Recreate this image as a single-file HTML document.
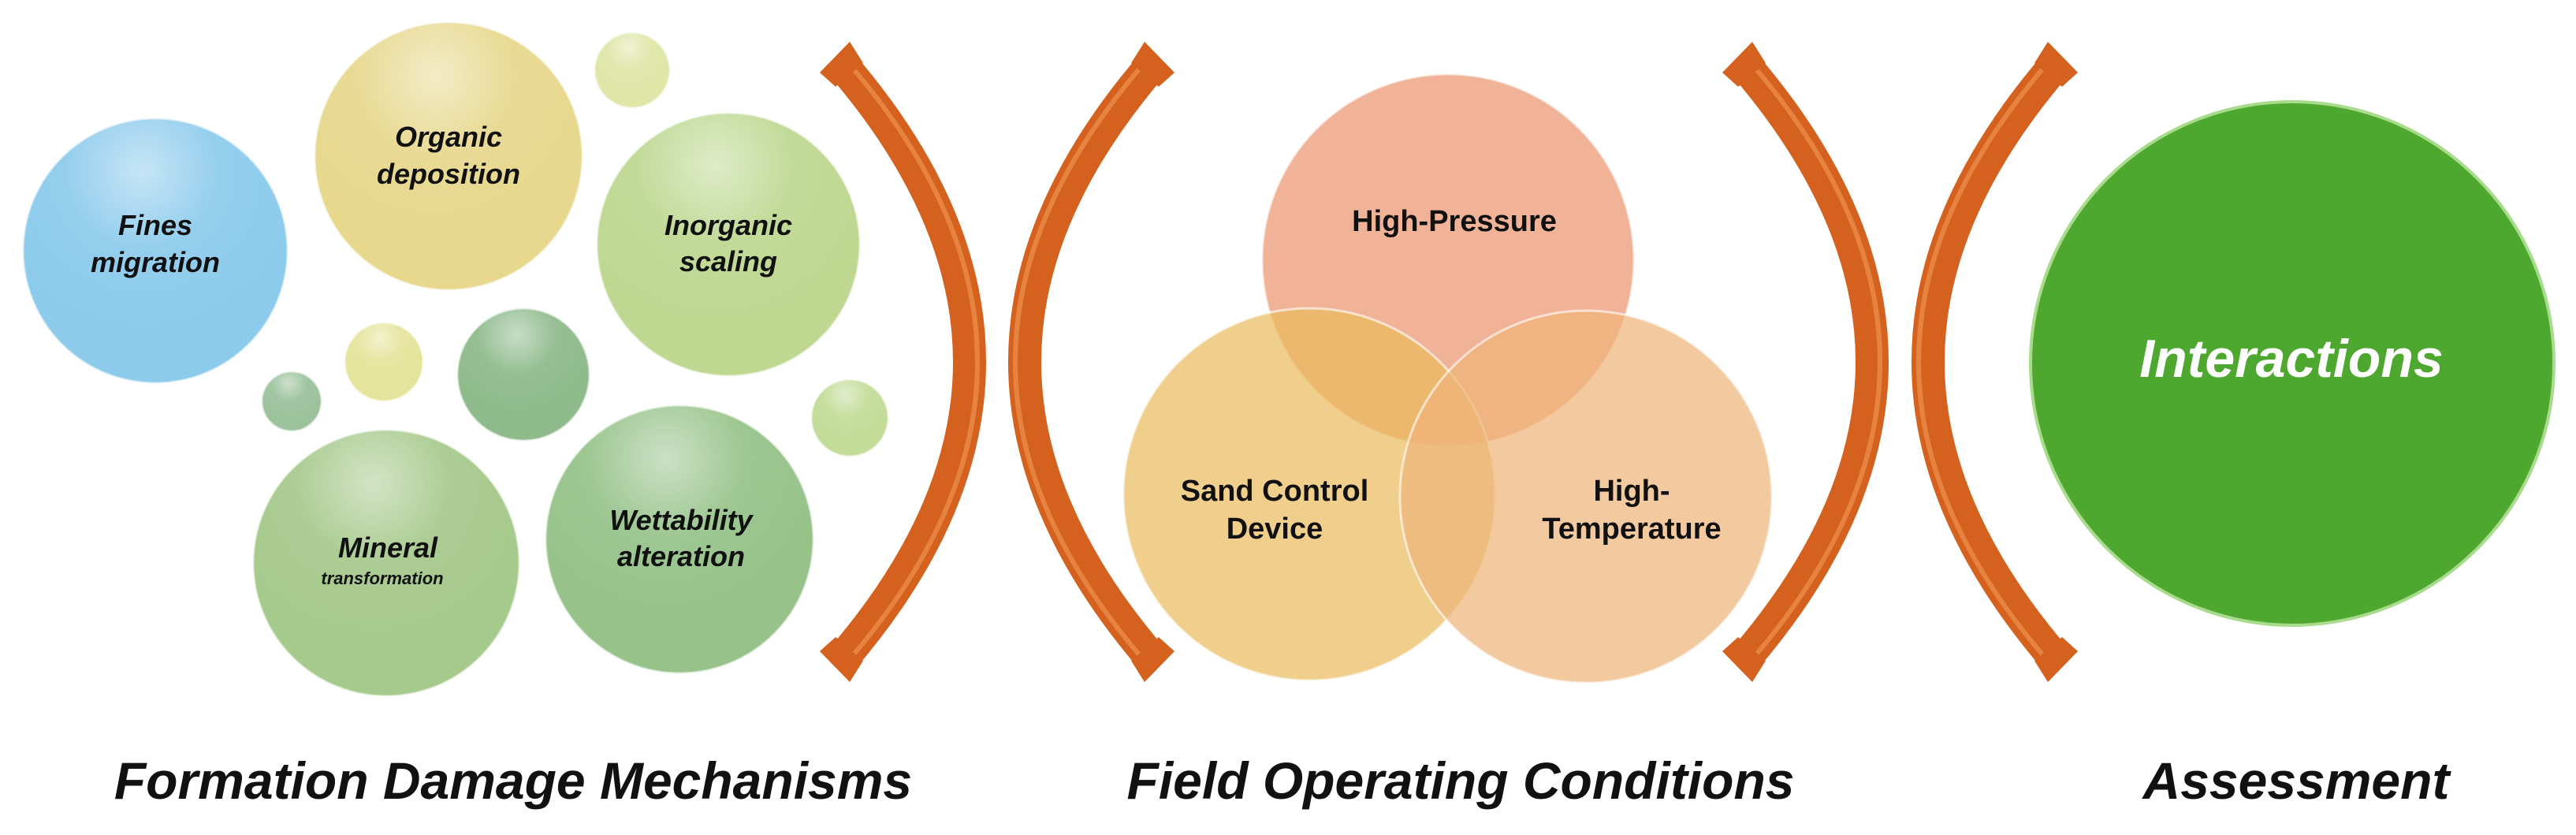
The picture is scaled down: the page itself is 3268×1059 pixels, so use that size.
<!DOCTYPE html>
<html><head><meta charset="utf-8"><style>
html,body{margin:0;padding:0;background:#fff;}
svg{display:block}
.t{font-family:"Liberation Sans Narrow","Liberation Sans",sans-serif;font-weight:bold;font-style:italic;fill:#111;text-anchor:middle}
.u{font-family:"Liberation Sans Narrow","Liberation Sans",sans-serif;font-weight:bold;fill:#111;text-anchor:middle}
</style></head><body>
<svg width="3268" height="1059" viewBox="0 0 3268 1059" xmlns="http://www.w3.org/2000/svg">
<defs>
<radialGradient id="hl" cx="0.45" cy="0.2" r="0.6">
<stop offset="0" stop-color="#fff" stop-opacity="0.5"/><stop offset="0.5" stop-color="#fff" stop-opacity="0.06"/><stop offset="1" stop-color="#fff" stop-opacity="0"/>
</radialGradient>
</defs>
<g stroke="#ffffff" stroke-opacity="0.6" stroke-width="3">
<circle cx="197" cy="318" r="168" fill="#8dcbec"/>
<circle cx="569" cy="198" r="170" fill="#e7d88e"/>
<circle cx="802" cy="89" r="48" fill="#dfe6a8"/>
<circle cx="924" cy="310" r="167" fill="#bed892"/>
<circle cx="370" cy="509" r="38" fill="#9cc29c"/>
<circle cx="487" cy="459" r="50" fill="#e5e49c"/>
<circle cx="664" cy="475" r="84" fill="#8fbb8c"/>
<circle cx="1078" cy="530" r="49" fill="#c3dc98"/>
<circle cx="490" cy="714" r="169" fill="#a6c98c"/>
<circle cx="862" cy="684" r="170" fill="#97c38b"/>
</g>
<g fill="url(#hl)">
<circle cx="197" cy="318" r="168"/><circle cx="569" cy="198" r="170"/><circle cx="802" cy="89" r="48"/>
<circle cx="924" cy="310" r="167"/><circle cx="370" cy="509" r="38"/><circle cx="487" cy="459" r="50"/>
<circle cx="664" cy="475" r="84"/><circle cx="1078" cy="530" r="49"/><circle cx="490" cy="714" r="169"/>
<circle cx="862" cy="684" r="170"/>
</g>
<g stroke="#fff" stroke-opacity="0.6" stroke-width="3">
<circle cx="1837" cy="330" r="236" fill="#eea07e" fill-opacity="0.8"/>
<circle cx="1661" cy="627" r="236" fill="#eabb5c" fill-opacity="0.7"/>
<circle cx="2012" cy="630" r="236" fill="#eeb47a" fill-opacity="0.72"/>
</g>
<circle cx="2908" cy="461" r="332" fill="#4ea72e" stroke="#a8dc8c" stroke-width="4"/>
<g fill="none" stroke="#d4611d" stroke-width="42">
<path d="M1068 82 Q1392 459 1068 836"/>
<path d="M1462 82 Q1138 459 1462 836"/>
<path d="M2213 82 Q2537 459 2213 836"/>
<path d="M2608 82 Q2284 459 2608 836"/>
</g>
<g fill="none" stroke="#f29a5a" stroke-width="6" stroke-opacity="0.6">
<path d="M1078 82 Q1402 459 1078 836"/>
<path d="M1450 82 Q1126 459 1450 836"/>
<path d="M2223 82 Q2547 459 2223 836"/>
<path d="M2596 82 Q2272 459 2596 836"/>
</g>
<g fill="#d4611d">
<polygon points="1040,92 1078,53 1095,80 1060,110"/><polygon points="1040,826 1078,865 1095,838 1060,808"/>
<polygon points="1490,92 1452,53 1435,80 1470,110"/><polygon points="1490,826 1452,865 1435,838 1470,808"/>
<polygon points="2185,92 2223,53 2240,80 2205,110"/><polygon points="2185,826 2223,865 2240,838 2205,808"/>
<polygon points="2636,92 2598,53 2581,80 2616,110"/><polygon points="2636,826 2598,865 2581,838 2616,808"/>
</g>
<g class="t" font-size="36">
<text x="197" y="298">Fines</text><text x="197" y="345">migration</text>
<text x="569" y="186">Organic</text><text x="569" y="233">deposition</text>
<text x="924" y="298">Inorganic</text><text x="924" y="344">scaling</text>
<text x="492" y="707">Mineral</text><text x="485" y="741" font-size="22">transformation</text>
<text x="864" y="672">Wettability</text><text x="864" y="718">alteration</text>
</g>
<g class="u" font-size="38">
<text x="1845" y="293">High-Pressure</text>
<text x="1617" y="635">Sand Control</text><text x="1617" y="683">Device</text>
<text x="2070" y="635">High-</text><text x="2070" y="683">Temperature</text>
</g>
<text x="2907" y="478" class="t" font-size="68" style="fill:#fff">Interactions</text>
<g class="t" font-size="66">
<text x="651" y="1013">Formation Damage Mechanisms</text>
<text x="1853" y="1013">Field Operating Conditions</text>
<text x="2913" y="1013">Assessment</text>
</g>
</svg>
</body></html>
